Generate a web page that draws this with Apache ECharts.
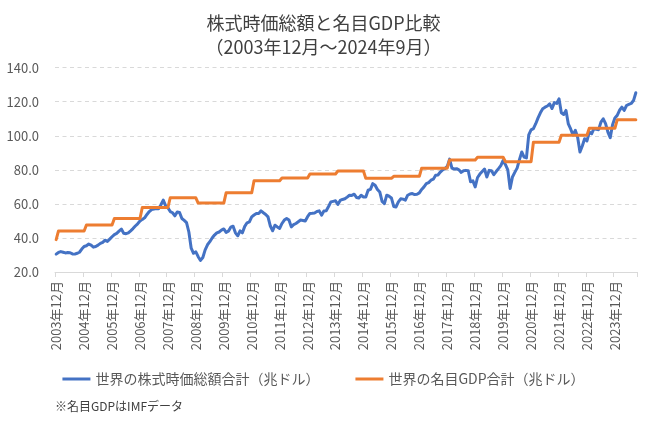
<!DOCTYPE html>
<html>
<head>
<meta charset="utf-8">
<script src="https://cdn.jsdelivr.net/npm/echarts@6/dist/echarts.min.js"></script>
<style>
html,body{margin:0;padding:0;background:#fff;}
#chart{width:647px;height:422px;}
</style>
</head>
<body>
<div id="chart"></div>
<script>
// ---- Data ----
const startYear = 2003, startMonth = 12, endYear = 2024, endMonth = 9;

// World stock market capitalisation (trillion USD), monthly from 2003-12 to 2024-09
const stock2003 = [30.5];
const stock2004 = [31.5, 32.0, 31.6, 31.2, 31.4, 31.3, 30.6, 30.5, 31.0, 31.6, 33.5, 35.0];
const stock2005 = [35.4, 36.4, 35.8, 34.6, 35.0, 35.8, 36.8, 37.4, 38.7, 38.0, 39.3, 40.7];
const stock2006 = [42.0, 42.7, 44.0, 45.2, 42.8, 42.5, 43.0, 44.2, 45.5, 47.0, 48.3, 49.9];
const stock2007 = [50.9, 51.8, 53.8, 55.5, 56.7, 57.0, 57.3, 57.2, 59.5, 62.2, 59.0, 57.8];
const stock2008 = [55.5, 54.8, 53.0, 55.3, 55.0, 51.4, 50.3, 49.0, 43.5, 34.0, 31.0, 31.8];
const stock2009 = [29.0, 26.8, 28.5, 33.0, 36.0, 37.8, 40.0, 41.7, 43.0, 43.5, 44.6, 45.3];
const stock2010 = [43.3, 44.0, 46.3, 46.9, 43.0, 41.3, 44.2, 43.0, 46.8, 48.9, 49.5, 52.4];
const stock2011 = [53.5, 54.4, 54.4, 55.9, 54.8, 53.8, 52.4, 47.0, 44.2, 47.5, 46.5, 45.6];
const stock2012 = [48.5, 50.5, 51.4, 50.5, 46.5, 47.8, 48.5, 49.5, 50.5, 50.3, 50.0, 52.5];
const stock2013 = [54.4, 54.5, 54.7, 55.5, 55.9, 53.4, 55.8, 56.0, 58.5, 61.2, 61.5, 61.8];
const stock2014 = [59.7, 62.0, 62.6, 63.0, 64.0, 65.1, 65.0, 65.7, 63.8, 63.5, 65.1, 64.1];
const stock2015 = [64.0, 68.0, 68.5, 71.9, 71.0, 68.5, 67.0, 61.5, 60.2, 65.1, 64.5, 63.5];
const stock2016 = [58.5, 58.2, 61.2, 63.0, 62.8, 62.2, 65.1, 65.8, 66.1, 65.5, 65.7, 66.5];
const stock2017 = [68.5, 70.0, 71.9, 72.5, 73.9, 74.5, 76.8, 77.0, 78.7, 80.0, 80.7, 82.0];
const stock2018 = [86.3, 81.0, 80.5, 80.7, 80.0, 78.5, 79.5, 79.7, 79.5, 73.0, 73.5, 70.0];
const stock2019 = [75.5, 77.5, 79.0, 80.5, 75.8, 79.7, 79.5, 77.2, 79.0, 80.7, 82.5, 85.5];
const stock2020 = [83.0, 80.0, 69.0, 75.8, 78.5, 81.0, 86.0, 90.5, 87.5, 87.0, 100.5, 103.5];
const stock2021 = [104.2, 107.1, 110.5, 113.5, 115.9, 116.8, 117.5, 118.8, 116.0, 119.5, 119.0, 121.7];
const stock2022 = [113.5, 112.5, 114.9, 107.0, 104.0, 100.5, 103.2, 99.2, 90.5, 94.0, 98.3, 97.0];
const stock2023 = [102.2, 101.2, 104.2, 103.8, 103.6, 108.0, 110.0, 107.1, 102.2, 98.9, 106.5, 110.5];
const stock2024 = [112.0, 115.0, 116.8, 114.9, 117.8, 118.5, 119.0, 120.7, 125.3];

// World nominal GDP (IMF, trillion USD), annual
const gdpYears  = [2003, 2004, 2005, 2006, 2007, 2008, 2009, 2010, 2011, 2012, 2013, 2014, 2015, 2016, 2017, 2018, 2019, 2020, 2021, 2022, 2023, 2024];
const gdpValues = [39.0, 44.1, 47.6, 51.4, 57.9, 63.6, 60.5, 66.5, 73.6, 75.2, 77.6, 79.3, 75.0, 76.2, 81.0, 85.8, 87.4, 84.8, 96.2, 100.3, 104.4, 109.4];

const yTicks = [20, 40, 60, 80, 100, 120, 140];
const seriesNames = ['世界の株式時価総額合計（兆ドル）', '世界の名目GDP合計（兆ドル）'];

// ---- Build tables ----
const stockValues = [].concat(stock2003, stock2004, stock2005, stock2006, stock2007, stock2008,
  stock2009, stock2010, stock2011, stock2012, stock2013, stock2014, stock2015, stock2016,
  stock2017, stock2018, stock2019, stock2020, stock2021, stock2022, stock2023, stock2024);

const categories = [];
const catYears = [];
for (let y = startYear, m = startMonth; y < endYear || (y === endYear && m <= endMonth); ) {
  categories.push(y + '年' + m + '月');
  catYears.push(y);
  m++; if (m > 12) { m = 1; y++; }
}
const gdpMonthly = catYears.map(y => gdpValues[gdpYears.indexOf(y)]);

const FONT = '"Noto Sans CJK JP", "Noto Sans", sans-serif';
const chart = echarts.init(document.getElementById('chart'), null, {renderer: 'canvas'});
chart.setOption({
  animation: false,
  backgroundColor: '#ffffff',
  title: {
    text: '株式時価総額と名目GDP比較\n（2003年12月～2024年9月）',
    left: 'center',
    top: 6,
    textStyle: {fontFamily: FONT, fontSize: 18, fontWeight: 'normal', color: '#404040', lineHeight: 24}
  },
  legend: {
    data: seriesNames,
    left: 'center',
    top: 367,
    icon: 'rect',
    itemWidth: 28,
    itemHeight: 3,
    itemGap: 36,
    textStyle: {fontFamily: FONT, fontSize: 14, color: '#595959'}
  },
  grid: {left: 55, right: 10, top: 67.7, bottom: 150, containLabel: false},
  xAxis: {
    type: 'category',
    data: categories,
    boundaryGap: true,
    axisLine: {lineStyle: {color: '#d9d9d9', width: 1}},
    axisTick: {show: true, interval: 11, length: 5, lineStyle: {color: '#d9d9d9'}},
    axisLabel: {
      interval: 11, rotate: 90, margin: 9,
      fontFamily: FONT, fontSize: 13, color: '#595959'
    },
    splitLine: {show: false}
  },
  yAxis: {
    type: 'value',
    min: yTicks[0],
    max: yTicks[yTicks.length - 1],
    interval: yTicks[1] - yTicks[0],
    axisLine: {show: false},
    axisTick: {show: false},
    axisLabel: {
      margin: 16, fontFamily: FONT, fontSize: 13, color: '#595959',
      formatter: v => v.toFixed(1)
    },
    splitLine: {lineStyle: {color: '#d9d9d9', type: [4, 3.5], width: 1}}
  },
  series: [
    {
      name: seriesNames[0], type: 'line', data: stockValues,
      showSymbol: false, symbol: 'none',
      lineStyle: {color: '#4472C4', width: 3, cap: 'round', join: 'round'},
      itemStyle: {color: '#4472C4'}
    },
    {
      name: seriesNames[1], type: 'line', data: gdpMonthly,
      showSymbol: false, symbol: 'none',
      lineStyle: {color: '#ED7D31', width: 3, cap: 'round', join: 'round'},
      itemStyle: {color: '#ED7D31'}
    }
  ],
  graphic: [{
    type: 'text', left: 55, top: 400,
    style: {text: '※名目GDPはIMFデータ', fontFamily: FONT, fontSize: 12, fill: '#404040'}
  }]
});
</script>
</body>
</html>
